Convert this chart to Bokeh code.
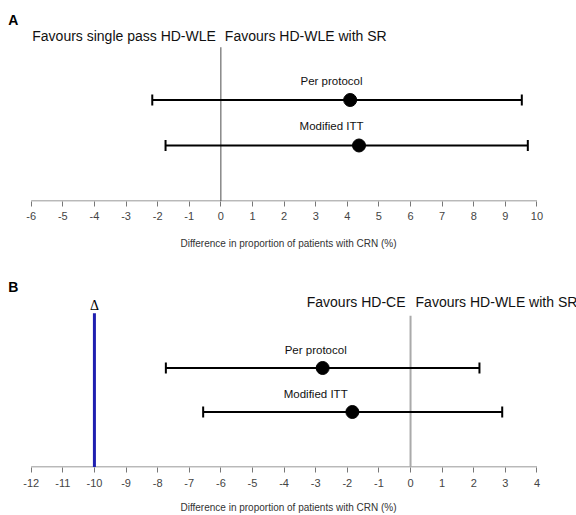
from bokeh.plotting import figure
from bokeh.models import ColumnDataSource, Whisker, TeeHead, Label, FixedTicker
from bokeh.layouts import column
from bokeh.embed import file_html
from bokeh.resources import INLINE
from bokeh.core.properties import value

# ---- data ----
analyses = ["Per protocol", "Modified ITT"]
rows = [2, 1]

a_est = [4.09, 4.37]
a_lo = [-2.17, -1.75]
a_hi = [9.52, 9.71]
a_ticks = list(range(-6, 11))

b_est = [-2.78, -1.84]
b_lo = [-7.74, -6.56]
b_hi = [2.18, 2.90]
b_ticks = list(range(-12, 5))
b_margin = -10

a_headers = ["Favours single pass HD-WLE", "Favours HD-WLE with SR"]
b_headers = ["Favours HD-CE", "Favours HD-WLE with SR"]
xlabel = "Difference in proportion of patients with CRN (%)"

FONT = "Liberation Sans"
W = 576
PAD_L = 0.971   # axis inset on the left, in x units
PAD_R = 1.250   # axis inset on the right, in x units


def panel(letter, est, lo, hi, ticks, headers, yr, axis_y, header_y, zero_top, letter_y,
          label_x, height, bottom, zero_color, zero_width, tick_standoff, label_standoff,
          off_l, off_r):
    p = figure(width=W, height=height, output_backend="svg", toolbar_location=None,
               x_range=(ticks[0] - PAD_L, ticks[-1] + PAD_R), y_range=yr,
               min_border_left=0, min_border_right=0, min_border_top=0,
               min_border_bottom=bottom, y_axis_location=None)
    p.outline_line_color = None
    p.grid.visible = False
    p.background_fill_color = "white"
    p.border_fill_color = "white"

    ax = p.xaxis[0]
    ax.ticker = FixedTicker(ticks=ticks)
    ax.major_label_overrides = {t: str(t) for t in ticks}
    ax.minor_tick_line_color = None
    ax.axis_line_color = None
    ax.major_tick_line_color = "#777777"
    ax.major_tick_in = 0
    ax.major_tick_out = 5
    ax.major_label_text_font = FONT
    ax.major_label_text_font_size = "11px"
    ax.major_label_text_color = "#444444"
    ax.major_label_standoff = tick_standoff
    ax.axis_label = xlabel
    ax.axis_label_text_font = FONT
    ax.axis_label_text_font_size = "10px"
    ax.axis_label_text_font_style = "normal"
    ax.axis_label_text_color = "#333333"
    ax.axis_label_standoff = label_standoff

    # axis line spanning only the tick range
    p.segment(x0=[ticks[0]], y0=[axis_y], x1=[ticks[-1]], y1=[axis_y],
              line_color="#777777", line_width=1)

    # zero reference line
    p.segment(x0=[0], y0=[axis_y], x1=[0], y1=[zero_top], line_color=zero_color,
              line_width=zero_width)

    src = ColumnDataSource(dict(row=rows, est=est, lo=lo, hi=hi,
                                name=analyses, lx=[label_x] * len(rows),
                                ly=[r + 0.42 for r in rows]))
    p.segment(x0="lo", y0="row", x1="hi", y1="row", source=src, line_color="black",
              line_width=2)
    w = Whisker(base="row", lower="lo", upper="hi", dimension="width", source=src,
                line_width=0, line_alpha=0,
                upper_head=TeeHead(size=11, line_width=2, line_color="black"),
                lower_head=TeeHead(size=11, line_width=2, line_color="black"))
    p.add_layout(w)
    p.scatter(x="est", y="row", source=src, size=13, color="black")
    p.text(x="lx", y="ly", text="name", source=src, text_align="center",
           text_baseline="middle", text_font=value(FONT), text_font_size="11.5px",
           text_color="#111111")

    p.add_layout(Label(x=0, y=header_y, x_offset=off_l, text=headers[0], text_align="right",
                       text_baseline="middle", text_font=FONT, text_font_size="14px",
                       text_color="#111111"))
    p.add_layout(Label(x=0, y=header_y, x_offset=off_r, text=headers[1], text_align="left",
                       text_baseline="middle", text_font=FONT, text_font_size="14px",
                       text_color="#111111"))
    p.add_layout(Label(x=ticks[0], y=letter_y, x_offset=-23, text=letter, text_align="left",
                       text_baseline="middle", text_font=FONT, text_font_size="14px",
                       text_font_style="bold", text_color="black"))
    return p


pA = panel("A", a_est, a_lo, a_hi, a_ticks, a_headers, (-0.231, 4.187), -0.2198,
           3.396, 3.160, 3.769, 3.5, 270, 69, "#4d4d4d", 1, 5, 15, -5, 4)

pB = panel("B", b_est, b_lo, b_hi, b_ticks, b_headers, (-0.2614, 4.216), -0.25,
           3.489, 3.19, 3.85, -3.0, 245, 48, "#aaaaaa", 2, 6, 12, -5, 5)

# non-inferiority margin
pB.segment(x0=[b_margin], y0=[-0.25], x1=[b_margin], y1=[3.245], line_color="#1f1fb0",
           line_width=3)
pB.add_layout(Label(x=b_margin, y=3.42, text="Δ", text_align="center", text_baseline="middle",
                    text_font="Liberation Serif", text_font_size="14px", text_color="black"))

layout = column(pA, pB)
open("out.html", "w").write(file_html(layout, INLINE))
